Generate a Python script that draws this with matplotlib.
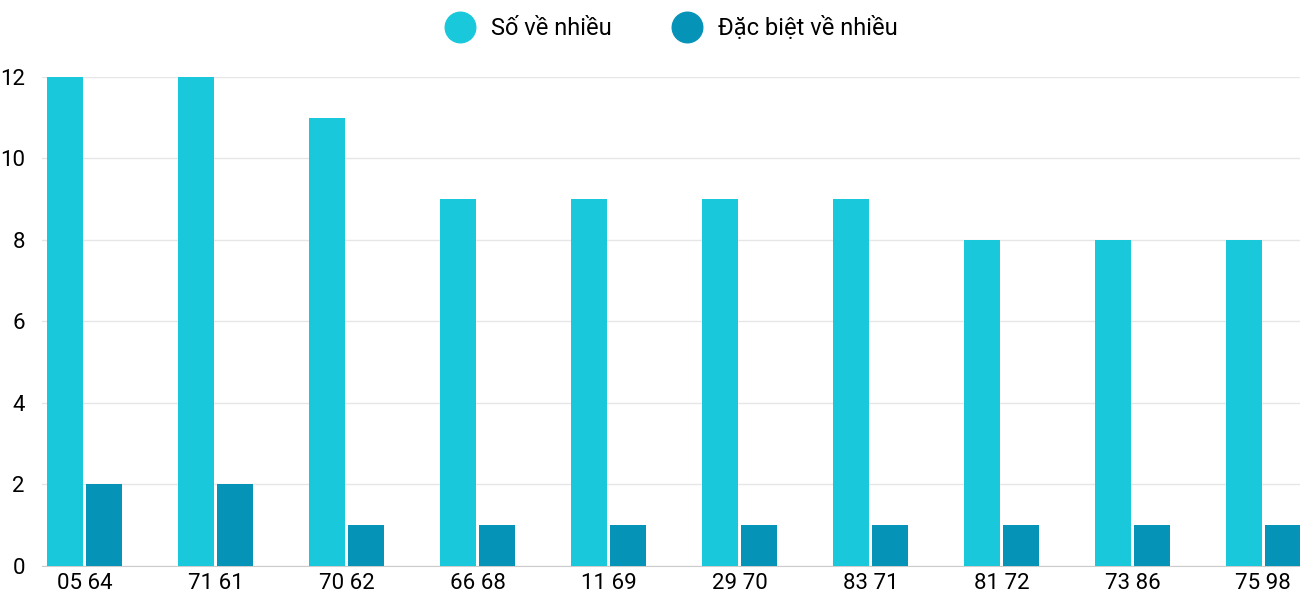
import matplotlib
matplotlib.use("Agg")
import matplotlib.pyplot as plt
from matplotlib.lines import Line2D
import numpy as np

plt.rcParams['font.family'] = ['Roboto', 'DejaVu Sans']

categories = ["05 64", "71 61", "70 62", "66 68", "11 69", "29 70", "83 71", "81 72", "73 86", "75 98"]
so_ve_nhieu = [12, 12, 11, 9, 9, 9, 9, 8, 8, 8]
dac_biet = [2, 2, 1, 1, 1, 1, 1, 1, 1, 1]
c1, c2 = "#1AC8DB", "#0693B8"

fig = plt.figure(figsize=(13, 6), dpi=100)
ax = fig.add_axes([0.032, 0.057, 0.968, 0.815])
x = np.arange(len(categories))
w = 0.275
ax.bar(x - 0.15, so_ve_nhieu, w, color=c1, zorder=3)
ax.bar(x + 0.15, dac_biet, w, color=c2, zorder=3)
ax.set_xlim(-0.33, 9.28)
ax.set_ylim(0, 12)
ax.set_yticks(range(0, 13, 2))
ax.set_xticks(x)
ax.set_xticklabels(categories)
ax.tick_params(axis='both', length=0, labelsize=16, colors='black')
ax.tick_params(axis='y', pad=12)
ax.tick_params(axis='x', pad=5)
ax.grid(axis='y', color='#e6e6e6', linewidth=1, zorder=0)
for s in ['left', 'right', 'top']:
    ax.spines[s].set_visible(False)
ax.spines['bottom'].set_color('#cccccc')
handles = [Line2D([], [], marker='o', linestyle='', markersize=22, color=c1),
           Line2D([], [], marker='o', linestyle='', markersize=22, color=c2)]
fig.legend(handles, ["Số về nhiều", "Đặc biệt về nhiều"], loc='center', bbox_to_anchor=(0.513, 0.953),
           ncol=2, frameon=False, fontsize=17, handletextpad=0.3, columnspacing=2.2)
fig.savefig("out.png", dpi=100)
